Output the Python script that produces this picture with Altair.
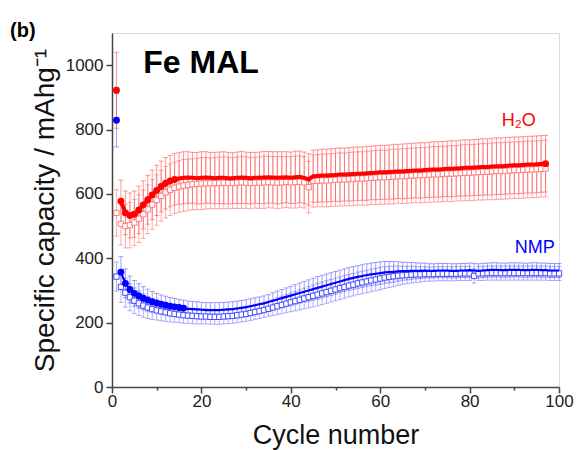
import altair as alt
import pandas as pd

# ---------------- data ----------------
H2O_CYCLES = list(range(1, 98))
H2O_CIRCLE = [922, 577, 541, 533, 537, 550, 566, 582, 597, 611,
              623, 633, 640, 645, 648, 650, 651, 650, 649, 650,
              651, 650, 649, 650, 650, 649, 649, 650, 651, 650,
              649, 650, 650, 651, 652, 651, 650, 651, 652, 650,
              652, 653, 650, 645, 655, 656, 657, 657, 658, 659,
              660, 660, 661, 662, 663, 663, 664, 665, 666, 667,
              667, 668, 669, 670, 670, 671, 672, 673, 673, 674,
              675, 676, 676, 677, 678, 678, 679, 680, 681, 681,
              682, 683, 684, 684, 685, 686, 686, 687, 688, 689,
              689, 690, 691, 691, 692, 693, 694]
H2O_SQUARE = [541, 507, 500, 503, 511, 523, 537, 552, 567, 581,
              594, 605, 613, 619, 623, 626, 628, 630, 631, 632,
              633, 633, 634, 634, 635, 634, 634, 635, 636, 635,
              634, 635, 635, 636, 637, 636, 635, 636, 637, 636,
              637, 638, 636, 621, 640, 641, 642, 642, 643, 644,
              645, 645, 646, 647, 648, 648, 649, 650, 651, 652,
              652, 653, 654, 655, 655, 656, 657, 658, 658, 659,
              660, 661, 661, 662, 663, 663, 664, 665, 666, 666,
              667, 668, 669, 669, 670, 671, 671, 672, 673, 674,
              674, 675, 676, 676, 677, 678, 679]
H2O_ERR_CIRCLE = [118, 66, 68, 70, 72, 74, 75, 76, 77, 78,
                  79, 80, 80, 80, 80, 81, 80, 79, 80, 81,
                  80, 79, 80, 80, 81, 80, 79, 80, 81, 80,
                  80, 79, 80, 81, 80, 80, 81, 80, 79, 80,
                  81, 80, 80, 80, 81, 81, 82, 82, 82, 82,
                  83, 82, 83, 83, 83, 83, 84, 83, 84, 84,
                  84, 84, 85, 84, 85, 85, 85, 85, 86, 85,
                  86, 86, 86, 86, 86, 87, 86, 87, 87, 87,
                  87, 87, 88, 87, 88, 88, 88, 88, 88, 88,
                  88, 88, 88, 88, 88, 88, 88]
H2O_ERR_SQUARE = [72] + H2O_ERR_CIRCLE[1:]

NMP_CYCLES = list(range(1, 101))
NMP_CIRCLE = [829, 357, 322, 303, 291, 283, 276, 270, 265, 261,
              257, 254, 251, 249, 247, 245, 243, 242, 241, 240,
              239, 239, 239, 239, 240, 241, 242, 244, 246, 248,
              251, 254, 257, 260, 264, 268, 272, 276, 280, 284,
              288, 292, 296, 300, 304, 308, 312, 316, 320, 324,
              328, 332, 336, 339, 342, 345, 348, 350, 352, 354,
              356, 357, 358, 359, 360, 360, 361, 361, 361, 362,
              361, 361, 362, 362, 362, 361, 361, 362, 362, 363,
              362, 361, 362, 363, 364, 364, 363, 363, 364, 364,
              364, 363, 363, 364, 364, 363, 363, 362, 362, 362]
NMP_SQUARE = [343, 311, 293, 279, 268, 260, 253, 247, 242, 238,
              235, 232, 229, 227, 225, 223, 222, 221, 220, 219,
              219, 218, 218, 218, 219, 220, 221, 223, 225, 227,
              230, 233, 236, 239, 243, 247, 251, 255, 259, 263,
              267, 271, 275, 279, 283, 287, 291, 295, 299, 303,
              307, 311, 315, 318, 322, 325, 328, 331, 334, 337,
              340, 342, 344, 346, 347, 348, 349, 350, 350, 351,
              351, 351, 352, 352, 352, 352, 352, 353, 353, 353,
              345, 353, 353, 354, 354, 354, 354, 354, 354, 354,
              354, 354, 354, 354, 354, 354, 354, 353, 353, 353]
NMP_ERR_CIRCLE = [83, 48, 45, 42, 40, 38, 36, 34, 32, 30,
                  29, 28, 27, 26, 25, 25, 24, 24, 24, 23,
                  23, 23, 23, 23, 23, 23, 23, 23, 23, 23,
                  23, 23, 23, 23, 23, 25, 26, 27, 28, 29,
                  30, 31, 32, 33, 34, 35, 35, 35, 35, 35,
                  35, 35, 35, 35, 35, 35, 35, 35, 35, 35,
                  34, 33, 32, 30, 28, 27, 26, 25, 24, 23,
                  22, 22, 22, 22, 22, 22, 22, 22, 22, 22,
                  22, 22, 22, 22, 22, 22, 22, 22, 22, 22,
                  22, 22, 22, 22, 22, 22, 22, 22, 22, 22]
NMP_ERR_SQUARE = [45] + NMP_ERR_CIRCLE[1:]

X_TICKS = [0, 10, 20, 30, 40, 50, 60, 70, 80, 90, 100]
Y_TICKS = [0, 100, 200, 300, 400, 500, 600, 700, 800, 900, 1000]

LABELS = ["H\u2082O", "NMP", "Fe MAL"]
LABEL_X = [91.0, 94.6, 7.0]
LABEL_Y = [810, 415, 975]

# ---------------- build tables ----------------
def table(cycles, vals, errs):
    return pd.DataFrame({"cycle": cycles, "val": vals, "err": errs})

h_c = table(H2O_CYCLES, H2O_CIRCLE, H2O_ERR_CIRCLE)
h_s = table(H2O_CYCLES, H2O_SQUARE, H2O_ERR_SQUARE)
n_c = table(NMP_CYCLES, NMP_CIRCLE, NMP_ERR_CIRCLE)
n_s = table(NMP_CYCLES, NMP_SQUARE, NMP_ERR_SQUARE)

xs = alt.Scale(domain=[0, 100], nice=False, zero=False)
ys = alt.Scale(domain=[0, 1100], nice=False)

FONT = "Liberation Sans"

x_axis = alt.Axis(
    values=X_TICKS,
    labelExpr="datum.value % 20 == 0 ? '' + datum.value : ''",
    tickSize={"condition": {"test": "datum.value % 20 == 0", "value": 6}, "value": 3},
    title="Cycle number", titleFontSize=27, titleFont=FONT, titleFontWeight="normal",
    titleColor="#111", titlePadding=13,
    labelFontSize=17, labelFont=FONT, labelColor="#222", labelPadding=0,
    domainColor="#444", domainWidth=1.5, tickColor="#444", tickWidth=1.5,
    grid=False, labelFlush=False, labelOverlap=False,
)
y_axis = alt.Axis(
    values=Y_TICKS,
    labelExpr="datum.value % 200 == 0 ? '' + datum.value : ''",
    tickSize={"condition": {"test": "datum.value % 200 == 0", "value": 6}, "value": 3},
    title="Specific capacity / mAhg\u207b\u00b9", titleFontSize=28, titleFont=FONT,
    titleFontWeight="normal", titleColor="#111", titlePadding=6,
    labelFontSize=17, labelFont=FONT, labelColor="#222", labelPadding=3,
    domainColor="#444", domainWidth=1.5, tickColor="#444", tickWidth=1.5,
    grid=False, labelFlush=False, labelOverlap=False,
)

X = alt.X("cycle:Q", scale=xs, axis=x_axis)
Y = alt.Y("val:Q", scale=ys, axis=y_axis)


def errbars(df, color, opacity):
    base = alt.Chart(df).transform_calculate(
        lo="datum.val - datum.err", hi="datum.val + datum.err"
    )
    rule = base.mark_rule(color=color, strokeWidth=1, opacity=opacity).encode(
        x=alt.X("cycle:Q", scale=xs), y=alt.Y("lo:Q", scale=ys), y2="hi:Q"
    )
    top = base.mark_tick(color=color, thickness=1, size=5, orient="horizontal",
                         opacity=opacity).encode(
        x=alt.X("cycle:Q", scale=xs), y=alt.Y("hi:Q", scale=ys))
    bot = base.mark_tick(color=color, thickness=1, size=5, orient="horizontal",
                         opacity=opacity).encode(
        x=alt.X("cycle:Q", scale=xs), y=alt.Y("lo:Q", scale=ys))
    return [rule, top, bot]


def squares(df, stroke):
    return alt.Chart(df).mark_point(shape="square", filled=False, size=28,
                                    stroke=stroke, strokeWidth=1, fill="white",
                                    fillOpacity=1, opacity=1).encode(x=X, y=Y)


def circle_line(df, color, width, max_marker, extra_last):
    line = alt.Chart(df).transform_filter("datum.cycle >= 2").mark_line(
        color=color, strokeWidth=width).encode(x=X, y=Y)
    cond = f"datum.cycle <= {max_marker}" + (f" || datum.cycle == {extra_last}" if extra_last else "")
    pts = alt.Chart(df).transform_filter(cond).mark_circle(
        color=color, size=48, opacity=1).encode(x=X, y=Y)
    return [line, pts]


layers = []
layers += errbars(n_s, "#7070ff", 0.55)
layers += errbars(n_c, "#5050ff", 0.55)
layers += errbars(h_s, "#ff7070", 0.6)
layers += errbars(h_c, "#ff5050", 0.6)
layers.append(squares(n_s, "#4848ff"))
layers.append(squares(h_s, "#ff7a7a"))
layers += circle_line(n_c, "#0000ff", 2.2, 16, None)
layers += circle_line(h_c, "#ff0000", 4, 14, 97)

lab = pd.DataFrame({"t": LABELS, "x": LABEL_X, "y": LABEL_Y})
h2o_t = alt.Chart(lab.iloc[[0]]).mark_text(font=FONT, fontSize=18, color="#ff0000",
                                           align="center", baseline="alphabetic").encode(
    x=alt.X("x:Q", scale=xs), y=alt.Y("y:Q", scale=ys), text="t:N")
nmp_t = alt.Chart(lab.iloc[[1]]).mark_text(font=FONT, fontSize=18, color="#0000ff",
                                           align="center", baseline="alphabetic").encode(
    x=alt.X("x:Q", scale=xs), y=alt.Y("y:Q", scale=ys), text="t:N")
fe_t = alt.Chart(lab.iloc[[2]]).mark_text(font=FONT, fontSize=32, fontWeight="bold",
                                          color="#000", align="left",
                                          baseline="alphabetic").encode(
    x=alt.X("x:Q", scale=xs), y=alt.Y("y:Q", scale=ys), text="t:N")
b_t = alt.Chart(pd.DataFrame({"t": ["(b)"]})).mark_text(
    font=FONT, fontSize=20, fontWeight="bold", color="#000", align="left",
    baseline="alphabetic").encode(x=alt.value(-102), y=alt.value(4), text="t:N")

layers += [h2o_t, nmp_t, fe_t, b_t]

chart = alt.layer(*layers).properties(
    width=447, height=354,
    padding={"left": 112, "top": 33, "right": 26, "bottom": 63},
    autosize=alt.AutoSizeParams(type="none"),
).configure_view(stroke=None).configure(background="white")

chart.save("out.html", embed_options={"renderer": "svg", "actions": False})
